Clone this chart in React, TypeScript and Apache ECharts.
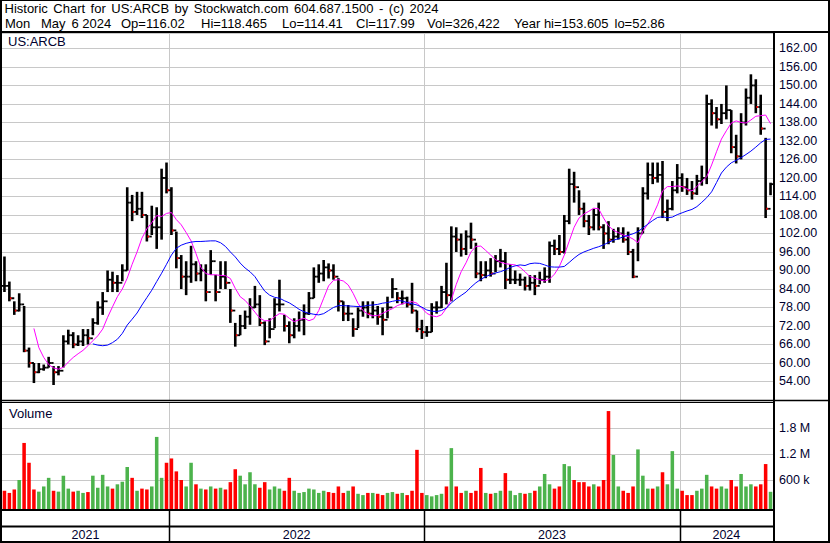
import React, { useEffect, useRef } from 'react';
import * as echarts from 'echarts';

// Weekly bars, first week starting Monday 2021-05-10, last bar Monday 2024-05-06
const FIRST_WEEK = '2021-05-10';

const highs = [
  94.5, 86.4, 80, 82.6, 78.5, 65, 60, 60, 59.5, 62,
  59, 59, 69, 70.8, 70, 69, 71, 71, 74.5, 80,
  83, 90, 89.6, 88.5, 92, 117, 114.5, 115.5, 115.5, 108,
  111, 110.5, 123, 125, 117, 102.6, 95, 93, 98, 93,
  92, 92, 96.6, 88.6, 93, 93, 84, 73, 75.6, 77,
  81, 85, 82, 73.5, 74.5, 81, 87, 75.6, 73.5, 74.5,
  76.7, 79, 83, 91, 92, 93.4, 92.3, 92, 87.5, 80,
  78.8, 74.5, 78, 80, 80, 80, 78.5, 78, 81.5, 87.5,
  83, 83.5, 81.5, 86, 77, 74, 72, 79.4, 80, 85,
  92.5, 104.3, 104, 102, 103, 105.5, 99, 93, 93, 94,
  95, 97, 96, 92, 90, 89, 88, 88.5, 88.5, 89.6,
  91, 99.4, 100, 101.5, 108, 123, 122, 116, 112, 108,
  110, 112, 105, 106, 103.5, 104, 104, 102.6, 97, 104,
  117, 125, 125, 125, 125.5, 113, 119, 124.5, 121.5, 120,
  119, 121, 124, 147, 145.5, 143, 144, 150, 142, 134,
  141, 149, 153.605, 152, 147, 133, 118.465,
];

const lows = [
  83, 80, 75.6, 76.7, 63.5, 58.5, 53.5, 56.7, 57.5, 58.5,
  52.86, 56, 58.5, 66, 64.8, 65.5, 65.5, 66, 69, 72.4,
  75.6, 83, 83, 83, 86.5, 90, 106, 108, 107, 99.4,
  101.5, 97, 100, 115, 101.5, 90.7, 84, 82, 86, 86.5,
  86.5, 80, 88.6, 80, 84, 84, 73, 65.3, 69, 71,
  72.4, 77.8, 72, 65.8, 68, 71.3, 76.7, 70.2, 66.4, 68,
  70.2, 69, 75.6, 81, 86, 86.5, 87.4, 87, 76.7, 73.6,
  73.6, 68.5, 71.3, 75, 74.5, 74.5, 72.4, 69, 74.5, 81,
  79.4, 79, 78, 76, 70, 67.8, 68.5, 70, 76, 77.8,
  79, 80, 96, 94.5, 95, 97, 87.5, 86.5, 87.5, 88,
  89.5, 91, 84, 85.6, 85.6, 85, 83.5, 83.5, 82, 85.5,
  86, 86, 95, 95, 95.5, 105, 112, 108, 104, 101.5,
  103, 103, 97, 98.5, 99, 100, 99, 95, 87.5, 93,
  102, 113, 118, 118.5, 107, 106, 109.5, 115, 115.5, 114.5,
  113, 114.5, 117.5, 118, 137, 136, 137.5, 139, 128, 124.7,
  126, 137, 144, 141, 134, 107, 114.41,
];

const closes = [
  85, 81, 77, 79, 64, 60, 57, 58, 58.5, 60,
  57, 57.5, 67, 69, 66, 67, 69, 68, 73, 78,
  80, 87, 86, 86, 90, 112, 109, 110, 108, 101,
  104, 104, 120, 116, 103, 94, 88, 88, 92, 89,
  90, 83, 93, 83, 88, 86, 77, 69, 72, 75,
  78, 79, 73, 67, 71, 79, 79, 72, 69, 72,
  74, 76, 81, 88, 89, 91, 90, 88, 80, 76,
  76, 71, 77, 78, 76, 77, 75, 74, 78, 84,
  81, 81, 79, 77, 71, 70, 70, 78, 78, 83,
  82, 101, 100, 97, 101, 100, 89, 88.5, 90, 89,
  93, 93, 87, 87, 87, 87, 85, 86, 85, 87,
  88, 98, 97, 96, 106, 118, 117, 110, 106, 104,
  108, 104, 102, 100, 101, 102, 100, 96, 88, 102,
  115, 121, 120, 121, 109, 110, 116, 120, 117, 116,
  115, 119, 120, 144, 141, 139, 141, 142, 130, 127,
  138, 146, 150, 143, 136, 110, 117.99,
];

// magenta moving average
const maShort = [
  null, null, null, null, null, null, 71.2, 65, 61.8, 59.5,
  58.4, 58, 58.6, 60.3, 61.8, 63, 64.1, 65.6, 67.2, 68.8,
  71, 74.8, 78.2, 81.5, 84, 87.5, 92, 96, 100.5, 103.5,
  105.5, 107.8, 107.5, 108.5, 108.8, 106.5, 104.8, 102.3, 99.6, 95.5,
  91, 89, 88.6, 88.6, 88.4, 88.3, 87.4, 84.2, 81.5, 80.3,
  78.5, 76.5, 74.5, 73.7, 73.7, 75, 76, 75.8, 74.5, 73.4,
  74, 74.5, 73.7, 74.3, 77, 81, 85, 86.8, 87, 86.6,
  85.3, 82.6, 79.3, 77, 75.8, 75.3, 75.4, 76.1, 76.9, 77.6,
  78.6, 79.2, 79.6, 79.9, 79.4, 77.8, 76.1, 75.3, 75, 75.6,
  77.8, 80.5, 85.5, 89.6, 92.5, 96, 97.8, 97.9, 96.5, 95,
  93.5, 92.7, 92.2, 92, 91.8, 91, 89.6, 88, 87.5, 87,
  86.6, 87.2, 88.8, 91.3, 95, 99.5, 104, 107, 108.3, 109.2,
  110.2, 110, 107, 104.5, 103, 102.3, 101.5, 101, 100.2, 99,
  102.7, 105, 107.8, 111.3, 115.8, 117.2, 117.2, 117.4, 117.2, 116.4,
  115.8, 117.2, 118.8, 120.4, 124.2, 128.5, 132.6, 135.3, 137.8, 138.5,
  138, 137.8, 138.8, 140, 140.2, 140.4, 137.6,
];

// blue moving average
const maLong = [
  null, null, null, null, null, null, null, null, null, null,
  null, null, null, null, null, null, null, null, 66.2, 65.8,
  65.6, 65.8, 66.6, 67.7, 69.6, 72.3, 74.2, 76.2, 78.8, 81.2,
  83.6, 86.4, 89.1, 92, 95, 97.2, 98.2, 98.8, 99.2, 99.4,
  99.4, 99.5, 99.6, 99.6, 99, 97.8, 96, 94.4, 92.4, 90.8,
  89.6, 88, 85.6, 83.3, 82, 81.3, 81, 80.2, 79.5, 78.5,
  77.4, 76.6, 76.1, 75.8, 75.6, 76, 77, 78, 78.6, 78.6,
  78.5, 78.4, 78.3, 78.4, 78.7, 78.8, 79, 79.4, 79.6, 80,
  80.3, 80.1, 79.6, 79.2, 78.8, 78.1, 77.2, 76.8, 76.7, 77,
  77.8, 79.5, 80.8, 81.9, 83, 84.6, 86, 87.1, 88, 88.7,
  89.2, 89.6, 90.2, 91, 91.5, 91.8, 91.6, 92.2, 92.4, 92.3,
  91.8, 91.2, 91.1, 91.1, 91.3, 92.6, 94, 95.2, 96, 96.6,
  97.2, 97.7, 98.3, 99.1, 99.8, 100.3, 100.9, 101.4, 101.9, 102.6,
  103.8, 105, 106.2, 107.2, 107.4, 107.1, 107.3, 108.1, 108.7, 109.3,
  109.8, 110.7, 112.1, 113.6, 115.5, 118.5, 121.6, 123.5, 124.9, 125.7,
  126.6, 127.6, 128.7, 130, 131.4, 132.5, 132.6,
];

// volume, thousands of shares
const volumesK = [
  350, 300, 380, 600, 1460, 1000, 380, 330, 450, 650,
  350, 330, 700, 400, 330, 350, 300, 320, 700, 420,
  720, 450, 400, 500, 560, 900, 650, 350, 400, 380,
  450, 1600, 650, 1000, 1100, 800, 600, 450, 1000, 500,
  400, 380, 450, 400, 420, 380, 550, 850, 700, 500,
  780, 500, 420, 550, 380, 450, 400, 350, 650, 350,
  300, 320, 400, 380, 300, 350, 320, 300, 450, 300,
  350, 450, 280, 250, 300, 300, 280, 250, 300, 320,
  280, 300, 250, 350, 1300, 300, 250, 220, 250, 280,
  450, 1340, 450, 300, 350, 300, 350, 880, 300, 280,
  300, 350, 760, 350, 250, 300, 280, 300, 350, 450,
  740, 500, 400, 450, 970, 920, 600, 550, 550, 450,
  500, 450, 600, 2200, 1180, 450, 350, 300, 450, 1310,
  700, 400, 400, 450, 780, 500, 1270, 400, 350, 250,
  250, 350, 400, 720, 450, 400, 450, 400, 600, 450,
  740, 450, 500, 450, 500, 970, 326,
];

const priceTickLabels = [54, 60, 66, 72, 78, 84, 90, 96, 102, 108, 114, 120, 126, 132, 138, 144, 150, 156, 162];
const volumeTickLabels: Record<number, string> = { 600000: '600 k', 1200000: '1.2 M', 1800000: '1.8 M' };

const HEADER_1_WORDS = ['Historic', 'Chart', 'for', 'US:ARCB', 'by', 'Stockwatch.com', '604.687.1500', '-', '(c)', '2024'];
const HEADER_2_TOKENS = ['Mon', 'May', '6 2024', 'Op=116.02', 'Hi=118.465', 'Lo=114.41', 'Cl=117.99', 'Vol=326,422', 'Year hi=153.605', 'lo=52.86'];
const HEADER_2_X = [5, 41, 71.5, 121, 201, 282, 356, 427, 514, 614.5];

const FONT = "'Liberation Sans', Arial, Helvetica, sans-serif";
const TEXT_DARK = '#00002e';

function buildWeeks(n: number): string[] {
  const out: string[] = [];
  const d = new Date(FIRST_WEEK + 'T00:00:00Z');
  for (let i = 0; i < n; i++) {
    out.push(d.toISOString().slice(0, 10));
    d.setUTCDate(d.getUTCDate() + 7);
  }
  return out;
}

export default function App() {
  const ref = useRef<HTMLDivElement>(null);

  useEffect(() => {
    if (!ref.current) return;
    const chart = echarts.init(ref.current, null, { renderer: 'svg' });
    const weeks = buildWeeks(highs.length);
    const n = weeks.length;

    const priceData = highs.map((h, i) => [
      i, h, lows[i], closes[i], i > 0 ? closes[i - 1] : closes[i], i > 0 && closes[i] < closes[i - 1] ? 1 : 0,
    ]);
    const volData = volumesK.map((v, i) => [i, v * 1000, i > 0 && closes[i] >= closes[i - 1] ? 1 : 0]);

    const option: any = {
      animation: false,
      backgroundColor: '#ffffff',
      grid: [
        { left: 2, top: 33, width: 771, height: 367 },
        { left: 2, top: 403, width: 771, height: 102.85 },
      ],
      xAxis: [0, 1].map((g) => ({
        type: 'category',
        gridIndex: g,
        data: weeks,
        boundaryGap: true,
        axisLine: { show: false },
        axisTick: { show: false },
        axisLabel: { show: false },
        splitLine: { show: false },
      })),
      yAxis: [
        {
          type: 'value',
          gridIndex: 0,
          position: 'right',
          min: 48,
          max: 167,
          interval: 6,
          axisLine: { show: false },
          axisTick: { show: false },
          axisLabel: {
            margin: 6,
            color: TEXT_DARK,
            fontSize: 12.5,
            fontFamily: FONT,
            formatter: (v: number) =>
              priceTickLabels.indexOf(Math.round(v)) >= 0 && Math.abs(v - Math.round(v)) < 1e-6 ? v.toFixed(2) : '',
          },
          splitLine: { show: true, lineStyle: { color: '#c8c8c8', width: 1 } },
        },
        {
          type: 'value',
          gridIndex: 1,
          position: 'right',
          min: 0,
          max: 2387000,
          interval: 600000,
          axisLine: { show: false },
          axisTick: { show: false },
          axisLabel: {
            margin: 6,
            color: TEXT_DARK,
            fontSize: 12.5,
            fontFamily: FONT,
            formatter: (v: number) => volumeTickLabels[v] || '',
          },
          splitLine: {
            show: true,
            lineStyle: { color: ['rgba(0,0,0,0)', '#c8c8c8', '#c8c8c8', '#c8c8c8', 'rgba(0,0,0,0)'], width: 1 },
          },
        },
      ],
      series: [
        {
          type: 'custom',
          xAxisIndex: 0,
          yAxisIndex: 0,
          data: priceData,
          encode: { x: 0, y: [1, 2, 3] },
          z: 2,
          renderItem: (params: any, api: any) => {
            const idx = api.value(0);
            const hi = api.coord([idx, api.value(1)]);
            const lo = api.coord([idx, api.value(2)]);
            const cl = api.coord([idx, api.value(3)]);
            const op = api.coord([idx, api.value(4)]);
            const band = api.size([1, 0])[0];
            const x = hi[0];
            const children: any[] = [
              {
                type: 'rect',
                shape: { x: x - 1.3, y: hi[1], width: 2.6, height: Math.max(lo[1] - hi[1], 1) },
                style: { fill: '#000' },
              },
              {
                type: 'rect',
                shape: { x: x - band / 2, y: op[1] - 0.9, width: band / 2, height: 1.8 },
                style: { fill: '#000' },
              },
              {
                type: 'rect',
                shape: { x, y: cl[1] - 0.9, width: band / 2, height: 1.8 },
                style: { fill: '#000' },
              },
            ];
            if (api.value(5)) {
              children.push({
                type: 'rect',
                shape: { x: x + 0.6, y: cl[1] - 1, width: 1.6, height: 2 },
                style: { fill: '#ff0000' },
              });
            }
            return { type: 'group', children };
          },
        },
        {
          type: 'line',
          xAxisIndex: 0,
          yAxisIndex: 0,
          data: maShort,
          showSymbol: false,
          symbol: 'none',
          connectNulls: false,
          z: 3,
          lineStyle: { color: '#ff00ff', width: 1 },
        },
        {
          type: 'line',
          xAxisIndex: 0,
          yAxisIndex: 0,
          data: maLong,
          showSymbol: false,
          symbol: 'none',
          connectNulls: false,
          z: 3,
          lineStyle: { color: '#0000ff', width: 1 },
        },
        {
          type: 'custom',
          xAxisIndex: 1,
          yAxisIndex: 1,
          data: volData,
          encode: { x: 0, y: 1 },
          z: 2,
          renderItem: (params: any, api: any) => {
            const idx = api.value(0);
            const top = api.coord([idx, api.value(1)]);
            const zero = api.coord([idx, 0]);
            const band = api.size([1, 0])[0];
            const bottom = zero[1] + 3.7;
            return {
              type: 'rect',
              shape: { x: top[0] - band * 0.36, y: top[1], width: band * 0.72, height: bottom - top[1] },
              style: { fill: api.value(2) ? '#4cb34c' : '#ff0000' },
            };
          },
        },
      ],
    };
    chart.setOption(option);

    // year boundaries from the category axis
    const c0 = chart.convertToPixel({ xAxisIndex: 0 }, 0) as number;
    const c1 = chart.convertToPixel({ xAxisIndex: 0 }, 1) as number;
    const band = c1 - c0;
    const edge = (i: number) => c0 + (i - 0.5) * band;
    const starts: number[] = [0];
    for (let i = 1; i < n; i++) if (weeks[i].slice(0, 4) !== weeks[i - 1].slice(0, 4)) starts.push(i);
    const bounds = starts.concat([n]);
    const inner = starts.slice(1).map((i) => Math.round(edge(i)) + 0.5);

    const line = (x1: number, y1: number, x2: number, y2: number, stroke: string, w: number, z = 10) => ({
      type: 'line',
      z,
      silent: true,
      shape: { x1, y1, x2, y2 },
      style: { stroke, lineWidth: w },
    });

    const graphics: any[] = [];
    inner.forEach((x) => {
      graphics.push(line(x, 33, x, 400, '#c8c8c8', 1, 0));
      graphics.push(line(x, 403, x, 510, '#c8c8c8', 1, 0));
      graphics.push(line(x, 510, x, 542, '#000', 1.5, 10));
    });
    // frame
    graphics.push(line(1, 0, 1, 543, '#000', 2));
    graphics.push(line(0, 0.5, 830, 0.5, '#000', 1));
    graphics.push(line(829, 0, 829, 543, '#000', 2));
    graphics.push(line(0, 542, 830, 542, '#000', 2));
    graphics.push(line(0, 32, 830, 32, '#000', 2));
    graphics.push(line(774, 32, 774, 543, '#000', 2));
    graphics.push(line(0, 400.5, 830, 400.5, '#000', 1.5));
    graphics.push(line(0, 402.5, 774, 402.5, '#000', 1));
    graphics.push(line(0, 510, 774, 510, '#000', 2));
    graphics.push(line(0, 526.5, 774, 526.5, '#000', 2));

    const txt = (text: string, x: number, y: number, size: number, color: string, align = 'left') => ({
      type: 'text',
      z: 20,
      silent: true,
      x,
      y,
      style: { text, fill: color, font: `${size}px ${FONT}`, textAlign: align, textVerticalAlign: 'middle' },
    });

    // header line 1: words laid out with the wide word gap of the original
    const headerFont = `13px ${FONT}`;
    const ctx = document.createElement('canvas').getContext('2d');
    let hx = 4.5;
    HEADER_1_WORDS.forEach((w) => {
      graphics.push(txt(w, hx, 8, 13, '#000'));
      let wWidth = w.length * 7;
      if (ctx) {
        ctx.font = headerFont;
        wWidth = ctx.measureText(w).width;
      }
      hx += wWidth + 5.5;
    });
    HEADER_2_TOKENS.forEach((t, i) => graphics.push(txt(t, HEADER_2_X[i], 23, 13, '#000')));

    graphics.push(txt('US:ARCB', 8, 41, 13, TEXT_DARK));
    graphics.push(txt('Volume', 9, 413, 13, TEXT_DARK));
    for (let k = 0; k < starts.length; k++) {
      const left = k === 0 ? 2 : edge(bounds[k]);
      const right = k === starts.length - 1 ? 773 : edge(bounds[k + 1]);
      graphics.push(txt(weeks[starts[k]].slice(0, 4), (left + right) / 2, 535, 12.5, TEXT_DARK, 'center'));
    }
    chart.setOption({ graphic: graphics });

    return () => chart.dispose();
  }, []);

  return (
    <div
      ref={ref}
      style={{ position: 'fixed', left: 0, top: 0, width: 830, height: 543, background: '#fff' }}
    />
  );
}
